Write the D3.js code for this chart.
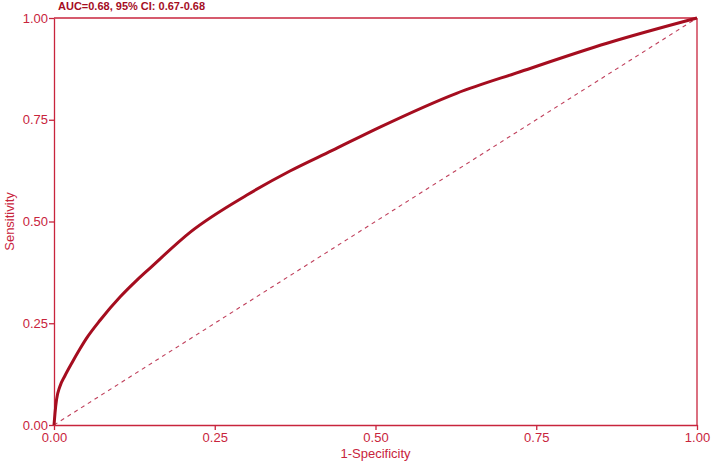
<!DOCTYPE html>
<html><head><meta charset="utf-8">
<script src="https://cdn.jsdelivr.net/npm/d3@7"></script>
<style>body{margin:0;background:#fff}svg{display:block}</style>
</head><body>
<svg id="c" width="714" height="463"></svg>
<script>
const fpr = [0, 0.0016, 0.004, 0.009, 0.017, 0.028, 0.040, 0.051, 0.072, 0.103, 0.129, 0.149, 0.212, 0.300, 0.367, 0.432, 0.507, 0.626, 0.725, 0.860, 1.0];
const tpr = [0, 0.030, 0.063, 0.094, 0.121, 0.153, 0.186, 0.214, 0.258, 0.315, 0.356, 0.385, 0.474, 0.565, 0.624, 0.674, 0.732, 0.815, 0.868, 0.938, 1.0];
const ticks = [0, 0.25, 0.5, 0.75, 1];
const title = "AUC=0.68, 95% CI: 0.67-0.68";

const axisCol = "#c8243c", curveCol = "#a50d1f", refCol = "#c0405c";
const svg = d3.select("#c");
const L = 54, R = 697, T = 18, B = 425;
const x = d3.scaleLinear().domain([0,1]).range([L,R]);
const y = d3.scaleLinear().domain([0,1]).range([B,T]);
const font = "'Liberation Sans', Arial, sans-serif";

// frame top/right
svg.append("line").attr("x1",L).attr("x2",R).attr("y1",T).attr("y2",T).attr("stroke",axisCol).attr("stroke-width",1.3);
svg.append("line").attr("x1",R).attr("x2",R).attr("y1",T).attr("y2",B).attr("stroke",axisCol).attr("stroke-width",1.3);

const fmt = d3.format(".2f");
const gx = svg.append("g").attr("transform",`translate(0,${B})`)
  .call(d3.axisBottom(x).tickValues(ticks).tickFormat(fmt).tickSize(5).tickSizeOuter(0));
const gy = svg.append("g").attr("transform",`translate(${L},0)`)
  .call(d3.axisLeft(y).tickValues(ticks).tickFormat(fmt).tickSize(5).tickSizeOuter(0));
[gx,gy].forEach(g=>{
  g.select(".domain").attr("stroke",axisCol).attr("stroke-width",1.3);
  g.selectAll(".tick line").attr("stroke",axisCol).attr("stroke-width",1.3);
  g.selectAll(".tick text").attr("fill",axisCol).style("font-family",font).style("font-size","13px");
});
gx.selectAll(".tick text").attr("dy","0.85em").attr("y",6);
gy.selectAll(".tick text").attr("x",-6);

// reference diagonal
svg.append("line").attr("x1",x(0)).attr("y1",y(0)).attr("x2",x(1)).attr("y2",y(1))
  .attr("stroke",refCol).attr("stroke-width",1.1).attr("stroke-dasharray","4,4");

// ROC curve
const pts = fpr.map((f,i)=>[f,tpr[i]]);
svg.append("path").datum(pts)
  .attr("d", d3.line().x(d=>x(d[0])).y(d=>y(d[1])).curve(d3.curveMonotoneX))
  .attr("fill","none").attr("stroke",curveCol).attr("stroke-width",3).attr("stroke-linejoin","round");

// labels
svg.append("text").attr("x",(L+R)/2).attr("y",458).attr("text-anchor","middle")
  .attr("fill",axisCol).style("font-family",font).style("font-size","13px").text("1-Specificity");
svg.append("text").attr("transform",`translate(14,${(T+B)/2}) rotate(-90)`).attr("text-anchor","middle")
  .attr("fill",axisCol).style("font-family",font).style("font-size","13px").text("Sensitivity");
svg.append("text").attr("x",58).attr("y",10).attr("fill",curveCol)
  .style("font-family",font).style("font-size","11px").style("font-weight","bold").text(title);
</script>
</body></html>
